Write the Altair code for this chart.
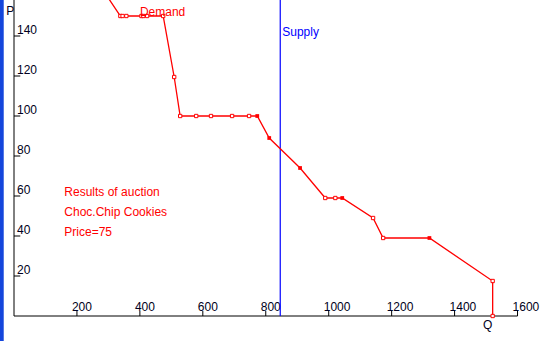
import altair as alt
import pandas as pd

# Demand curve (quantity, price)
demand_q = [274, 338, 345, 357, 405, 411, 423, 474, 509, 528, 579, 626, 693, 747, 773,
            811, 909, 989, 1021, 1043, 1141, 1173, 1320, 1521, 1521]
demand_p = [165, 150, 150, 150, 150, 150, 150, 150, 119.5, 100, 100, 100, 100, 100, 100,
            89, 74, 59, 59, 59, 49, 39, 39, 17.5, 0]
demand_filled = [0, 0, 0, 0, 0, 0, 0, 0, 0, 0, 0, 0, 0, 0, 1,
                 1, 1, 0, 0, 1, 0, 0, 1, 0, 0]

supply_q = 846
x_ticks = [200, 400, 600, 800, 1000, 1200, 1400, 1600]
y_ticks = [20, 40, 60, 80, 100, 120, 140]
notes = ["Results of auction", "Choc.Chip Cookies", "Price=75"]
notes_p = [60, 50, 40]

XMAX = 1700
YMAX = 158
FONT = "Liberation Sans"

xs = alt.Scale(domain=[0, XMAX], nice=False, zero=False)
ys = alt.Scale(domain=[0, YMAX], nice=False, zero=False)

demand = pd.DataFrame({"q": demand_q, "p": demand_p, "filled": demand_filled,
                       "idx": list(range(len(demand_q)))})
hollow = demand[(demand["idx"] > 0) & (demand["filled"] == 0)].reset_index(drop=True)
solid = demand[demand["filled"] == 1].reset_index(drop=True)

line = alt.Chart(demand).mark_line(color="#ff0000", strokeWidth=1.3, clip=True).encode(
    x=alt.X("q:Q", scale=xs, axis=None),
    y=alt.Y("p:Q", scale=ys, axis=None),
    order="idx:Q",
)

pts_h = alt.Chart(hollow).mark_square(size=11, strokeWidth=1, fill="white",
                                      stroke="#ff0000", opacity=1).encode(
    x=alt.X("q:Q", scale=xs, axis=None), y=alt.Y("p:Q", scale=ys, axis=None))
pts_s = alt.Chart(solid).mark_square(size=14, color="#ff0000", opacity=1).encode(
    x=alt.X("q:Q", scale=xs, axis=None), y=alt.Y("p:Q", scale=ys, axis=None))

supply = alt.Chart(pd.DataFrame({"q": [supply_q], "p0": [0], "p1": [YMAX]})).mark_rule(
    color="#0000ff", strokeWidth=1.2).encode(
    x=alt.X("q:Q", scale=xs, axis=None), y=alt.Y("p0:Q", scale=ys, axis=None), y2="p1:Q")

# window frame on the left edge
frame = alt.Chart(pd.DataFrame({"q": [-39], "a": [-14], "b": [YMAX]})).mark_rule(
    color="#1446dc", strokeWidth=4).encode(
    x=alt.X("q:Q", scale=xs, axis=None), y=alt.Y("a:Q", scale=ys, axis=None), y2="b:Q")

# axes drawn by hand
xaxis = alt.Chart(pd.DataFrame({"a": [0], "b": [1600], "p": [0]})).mark_rule(
    color="black", strokeWidth=1).encode(
    x=alt.X("a:Q", scale=xs, axis=None), x2="b:Q", y=alt.Y("p:Q", scale=ys, axis=None))
yaxis = alt.Chart(pd.DataFrame({"q": [0], "a": [0], "b": [YMAX]})).mark_rule(
    color="black", strokeWidth=1).encode(
    x=alt.X("q:Q", scale=xs, axis=None), y=alt.Y("a:Q", scale=ys, axis=None), y2="b:Q")

xt = pd.DataFrame({"q": x_ticks, "p0": [0] * len(x_ticks), "p1": [2.5] * len(x_ticks),
                   "lab": [str(v) for v in x_ticks]})
xtick = alt.Chart(xt).mark_rule(color="black").encode(
    x=alt.X("q:Q", scale=xs, axis=None), y=alt.Y("p0:Q", scale=ys, axis=None), y2="p1:Q")
xlab = alt.Chart(xt).mark_text(align="left", baseline="alphabetic", dx=-5, dy=-5,
                               font=FONT, fontSize=12, color="#000020").encode(
    x=alt.X("q:Q", scale=xs, axis=None), y=alt.Y("p0:Q", scale=ys, axis=None), text="lab:N")

yt = pd.DataFrame({"p": y_ticks, "q0": [0] * len(y_ticks), "q1": [20] * len(y_ticks),
                   "lab": [str(v) for v in y_ticks]})
ytick = alt.Chart(yt).mark_rule(color="black").encode(
    y=alt.Y("p:Q", scale=ys, axis=None), x=alt.X("q0:Q", scale=xs, axis=None), x2="q1:Q")
ylab = alt.Chart(yt).mark_text(align="left", baseline="alphabetic", dx=3, dy=-2,
                               font=FONT, fontSize=12, color="#000020").encode(
    x=alt.X("q0:Q", scale=xs, axis=None), y=alt.Y("p:Q", scale=ys, axis=None), text="lab:N")

red_labels = pd.DataFrame({"q": [400, 160, 160, 160], "p": [150] + notes_p,
                           "t": ["Demand"] + notes})
txt_red = alt.Chart(red_labels).mark_text(align="left", baseline="alphabetic", font=FONT,
                                          fontSize=12, color="#ff0000").encode(
    x=alt.X("q:Q", scale=xs, axis=None), y=alt.Y("p:Q", scale=ys, axis=None), text="t:N")

sup_label = pd.DataFrame({"q": [supply_q], "p": [140], "t": ["Supply"]})
txt_sup = alt.Chart(sup_label).mark_text(align="left", baseline="alphabetic", font=FONT,
                                         fontSize=12, color="#0000ff", dx=2).encode(
    x=alt.X("q:Q", scale=xs, axis=None), y=alt.Y("p:Q", scale=ys, axis=None), text="t:N")

ax_labels = pd.DataFrame({"q": [-25, 1490], "p": [150.5, -6.3], "t": ["P", "Q"]})
txt_ax = alt.Chart(ax_labels).mark_text(align="left", baseline="alphabetic", font=FONT,
                                        fontSize=12, color="#000020").encode(
    x=alt.X("q:Q", scale=xs, axis=None), y=alt.Y("p:Q", scale=ys, axis=None), text="t:N")

chart = alt.layer(frame, xaxis, yaxis, xtick, ytick, xlab, ylab, supply, line, pts_h, pts_s,
                  txt_red, txt_sup, txt_ax).properties(
    width=535, height=316,
    padding={"left": 14, "top": 0, "right": 1, "bottom": 25},
    autosize=alt.AutoSizeParams(type="none"),
    background="white",
).configure_view(strokeWidth=0)

chart.save("out.html", embed_options={"renderer": "svg", "actions": False})
